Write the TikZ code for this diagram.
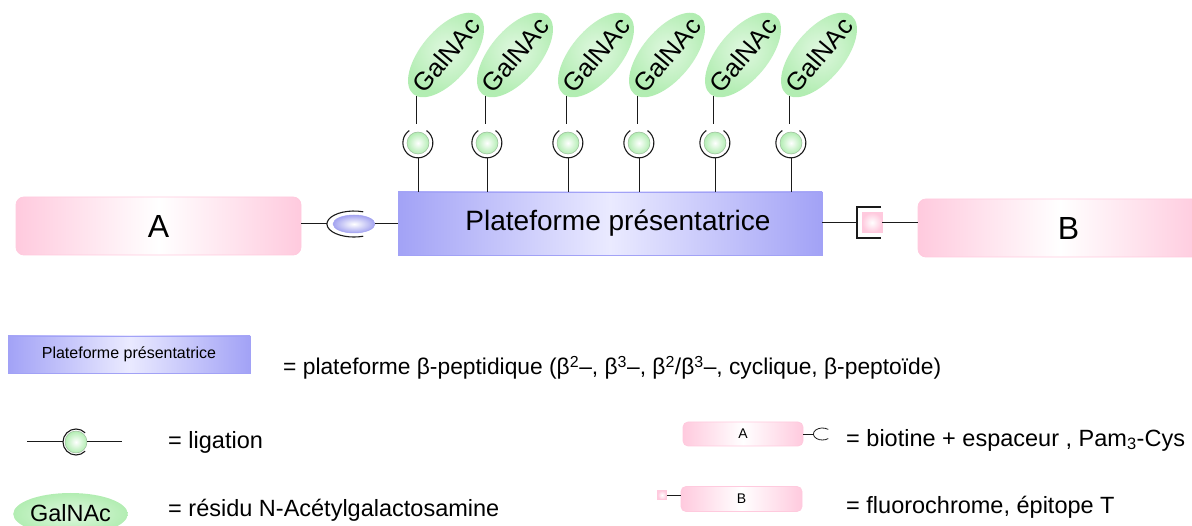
\documentclass[tikz,border=0pt]{standalone}
\usepackage{fontspec}
\setmainfont{Liberation Sans}
\usetikzlibrary{shapes.geometric, positioning, calc}
\definecolor{pinkedge}{HTML}{FFCADE}
\definecolor{blueedge}{HTML}{A2A2F6}
\definecolor{bluemid}{HTML}{EAEAFF}
\definecolor{greenedge}{HTML}{B2EDB2}
\definecolor{beadblue}{HTML}{A4A4F0}
\definecolor{inkline}{HTML}{1A1A1A}

\tikzset{
  pinkbox/.style={rectangle, rounded corners=8pt, draw=pinkedge, line width=0.8pt,
    left color=pinkedge, right color=pinkedge, middle color=white, inner sep=0pt},
  platbox/.style={rectangle, draw=blueedge, line width=0.6pt,
    left color=blueedge, right color=blueedge, middle color=bluemid, inner sep=0pt},
  bead/.style={circle, minimum size=22pt, inner sep=0pt, draw=greenedge!55!gray,
    line width=0.5pt, inner color=white, outer color=greenedge},
  cupzone/.style={circle, minimum size=30pt, inner sep=0pt},
  bluebead/.style={ellipse, minimum width=42pt, minimum height=18pt, inner sep=0pt,
    draw=beadblue, line width=0.5pt, inner color=white, outer color=beadblue},
  pinksq/.style={rectangle, minimum size=20pt, inner sep=0pt, draw=pinkedge,
    line width=0.8pt, inner color=white, outer color=pinkedge},
  galnac/.style={ellipse, minimum width=102pt, minimum height=50pt, inner sep=0pt,
    inner color=white!60!greenedge, outer color=greenedge, rotate=50,
    font=\fontsize{25.5}{25}\selectfont},
  cupline/.style={draw=inkline, line width=1.1pt},
  link/.style={draw=inkline, line width=1pt},
  legtext/.style={anchor=west, inner sep=0pt, font=\fontsize{23.5}{26}\selectfont}
}

% one GalNAc arm: bead in its cup, stem to the platform, GalNAc on top
\newcommand{\glycoarm}[2]{%
  \node[bead] (b#1) at (#2,143) {};
  \node[cupzone] (c#1) at (#2,143) {};
  \draw[cupline] (c#1.125) arc[start angle=125, end angle=415, radius=15pt];
  \node[galnac] (g#1) at (#2+28,55) {\makebox[0pt]{GalNAc}};
  \draw[link] (g#1.185) -- ++(0,28);
  \draw[link] (c#1.south) -- (c#1.south |- plat.north);}

\begin{document}
\begin{tikzpicture}[x=1pt, y=-1pt]
  \useasboundingbox (0,0) rectangle (1192,526);
  \clip (0,0) rectangle (1192,526);

  % main construct
  \node[pinkbox, minimum width=285pt, minimum height=58pt,
        font=\fontsize{32}{32}\selectfont] (boxA) at (158.5,226) {A};
  \node[platbox, minimum width=424pt, minimum height=63pt,
        font=\fontsize{28}{28}\selectfont] (plat) at (610,223.5)
        {\hspace*{16pt}Plateforme présentatrice};
  \node[pinkbox, minimum width=285pt, minimum height=58pt,
        font=\fontsize{32}{32}\selectfont] (boxB) at (1060.5,228) {\hspace*{16pt}B};

  \foreach \i/\x in {1/418, 2/487, 3/568, 4/639, 5/715, 6/791}
    {\glycoarm{\i}{\x}}

  % left ligation
  \node[bluebead] (lk) at (354,224) {};
  \draw[cupline] ([shift={(9.2,-12.2)}]lk.center)
    arc[start angle=70, end angle=290, x radius=27pt, y radius=13pt];
  \coordinate (lkcup) at ([xshift=-27pt]lk.center);
  \draw[link] (boxA.east |- lk) -- (lkcup);
  \draw[link] (lk) -- (plat.west |- lk);

  % right ligation
  \node[pinksq] (sq) at (872,222.5) {};
  \draw[cupline] ([shift={(9,-15.5)}]sq.center) -- ++(-24,0) -- ++(0,31) -- ++(24,0);
  \coordinate (sqbrk) at ([xshift=-15pt]sq.center);
  \draw[link] (plat.east |- sq) -- (sqbrk);
  \draw[link] (sq) -- (boxB.west |- sq);

  % legend
  \node[platbox, minimum width=242pt, minimum height=37pt,
        font=\fontsize{16}{16}\selectfont] (lplat) at (129,354.5) {Plateforme présentatrice};
  \node[legtext, font=\fontsize{22.8}{26}\selectfont] (lplattxt) at (283,368)
    {= plateforme β-peptidique (β\textsuperscript{2}--,
    β\textsuperscript{3}--, β\textsuperscript{2}/β\textsuperscript{3}--, cyclique, β-peptoïde)};

  \node[bead] (lb) at (76,442) {};
  \draw[cupline] ([shift={(45:13pt)}]lb.center) arc[start angle=45, end angle=315, radius=13pt];
  \coordinate (ligL) at (27,442);
  \coordinate (ligR) at (122,442);
  \draw[link] (ligL) -- ([xshift=-13pt]lb.center);
  \draw[link] (lb) -- (ligR);
  \node[legtext] (ligtxt) at (168,442) {= ligation};

  \node[ellipse, minimum width=105pt, minimum height=42pt, inner sep=0pt,
        inner color=white!60!greenedge, outer color=greenedge,
        font=\fontsize{23.5}{24}\selectfont] (lgal) at (70.5,514) {\raisebox{2pt}{GalNAc}};
  \node[legtext] (galtxt) at (168,510) {= résidu N-Acétylgalactosamine};

  \node[pinkbox, rounded corners=5pt, minimum width=120pt, minimum height=24pt,
        font=\fontsize{14}{14}\selectfont] (la) at (743,434) {A};
  \coordinate (lacup) at ([xshift=10pt]la.east);
  \draw[link, line width=0.8pt] (la) -- (lacup);
  \draw[cupline, line width=0.8pt] ([shift={(14.8,-4.6)}]lacup)
    arc[start angle=50, end angle=310, x radius=9pt, y radius=6pt];
  \node[legtext] (atxt) at (846,440) {= biotine + espaceur , Pam\textsubscript{3}-Cys};

  \node[pinkbox, rounded corners=5pt, minimum width=121pt, minimum height=25pt,
        font=\fontsize{14}{14}\selectfont] (lbb) at (741.5,499) {B};
  \node[pinksq, minimum size=9pt, line width=0.6pt] (lsq) at (662,495) {};
  \draw[link, line width=0.8pt] (lsq) -- (lbb.west |- lsq);
  \node[legtext] (btxt) at (846,507) {= fluorochrome, épitope T};
\end{tikzpicture}
\end{document}
